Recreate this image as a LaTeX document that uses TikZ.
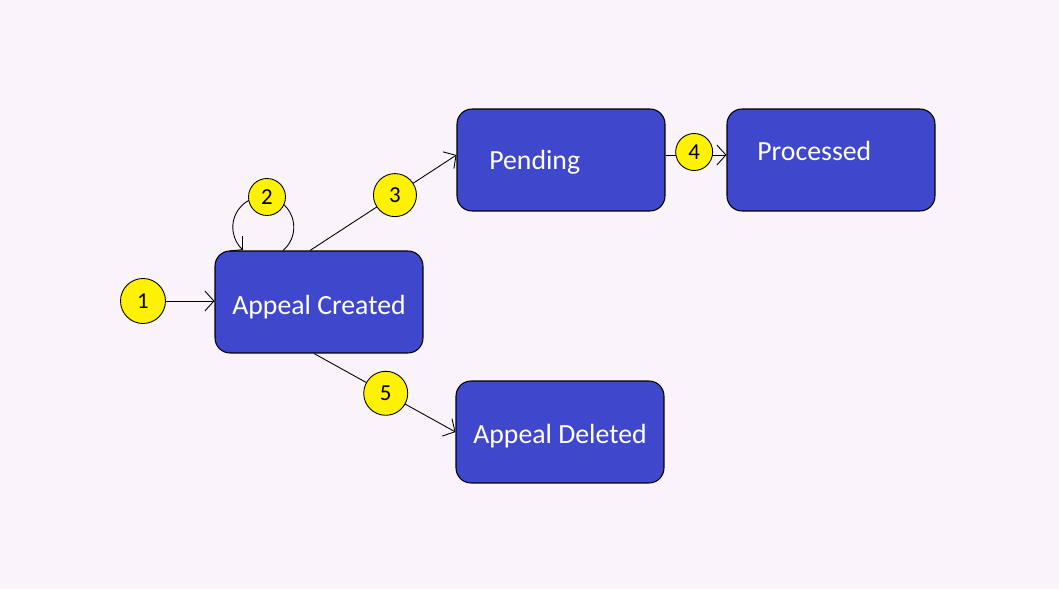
\documentclass[tikz,border=0pt]{standalone}
\usepackage{fontspec}
\setmainfont{Carlito}
\usetikzlibrary{arrows.meta, calc}
\definecolor{bgpink}{RGB}{250,244,250}
\definecolor{boxblue}{RGB}{63,72,204}
\definecolor{numyellow}{RGB}{255,242,0}
\tikzset{
  statebox/.style={draw=black, fill=boxblue, rounded corners=0.3cm, minimum width=4.16cm, minimum height=2.04cm, line width=0.6pt},
  statetext/.style={text=white, font=\fontsize{15.8}{18}\selectfont, inner sep=0pt},
  numcirc/.style={circle, draw=black, fill=numyellow, inner sep=0pt, font=\fontsize{13}{14}\selectfont, line width=0.5pt},
  arr/.style={-{Straight Barb[length=1.8mm, width=4mm]}, line width=0.5pt},
}
\begin{document}
\begin{tikzpicture}[x=0.02cm, y=0.02cm]
        % 背景
        \fill[bgpink] (0,0) rectangle (1059,589);
        \useasboundingbox (0,0) rectangle (1059,589);
        % 四个状态框
        \node[statebox] (ac) at (319,287) {};
        \node[statebox] (pend) at (561,429) {};
        \node[statebox] (proc) at (831,429) {};
        \node[statebox] (del) at (560,157) {};
        % 框内文字
        \node[statetext, anchor=base] (ac-txt) at (319,275) {Appeal Created};
        \node[statetext, anchor=base west] (pend-txt) at (489,419) {Pending};
        \node[statetext, anchor=base west] (proc-txt) at (757,428) {Processed};
        \node[statetext, anchor=base] (del-txt) at (560,146) {Appeal Deleted};
        % 1: 起始
        \node[numcirc, minimum size=0.9cm] (n1) at (143,288) {1};
        \draw[arr] (n1) -- (n1 -| ac.west);
        % 2: 自环
        \coordinate (lp-a) at ([xshift=-0.72cm]ac.north);
        \draw[arr] (lp-a) arc[start angle=-49.7, end angle=228.3, radius=0.61cm];
        \node[numcirc, minimum size=0.74cm] (n2) at (267,392) {2};
        % 3: 到 Pending
        \coordinate (ac-up) at ([xshift=-0.18cm]ac.north);
        \draw[arr] (ac-up) -- node[numcirc, minimum size=0.86cm, pos=0.58] (n3) {3} ([yshift=0.1cm]pend.west);
        % 4: 到 Processed
        \draw[arr] ([yshift=0.1cm]pend.east) -- node[numcirc, minimum size=0.74cm, pos=0.47, yshift=0.06cm] (n4) {4} ([yshift=0.1cm]proc.west);
        % 5: 到 Appeal Deleted
        \coordinate (ac-down) at ([xshift=-0.1cm]ac.south);
        \draw[arr] (ac-down) -- node[numcirc, minimum size=0.88cm, pos=0.507] (n5) {5} (del.west);
\end{tikzpicture}
\end{document}
